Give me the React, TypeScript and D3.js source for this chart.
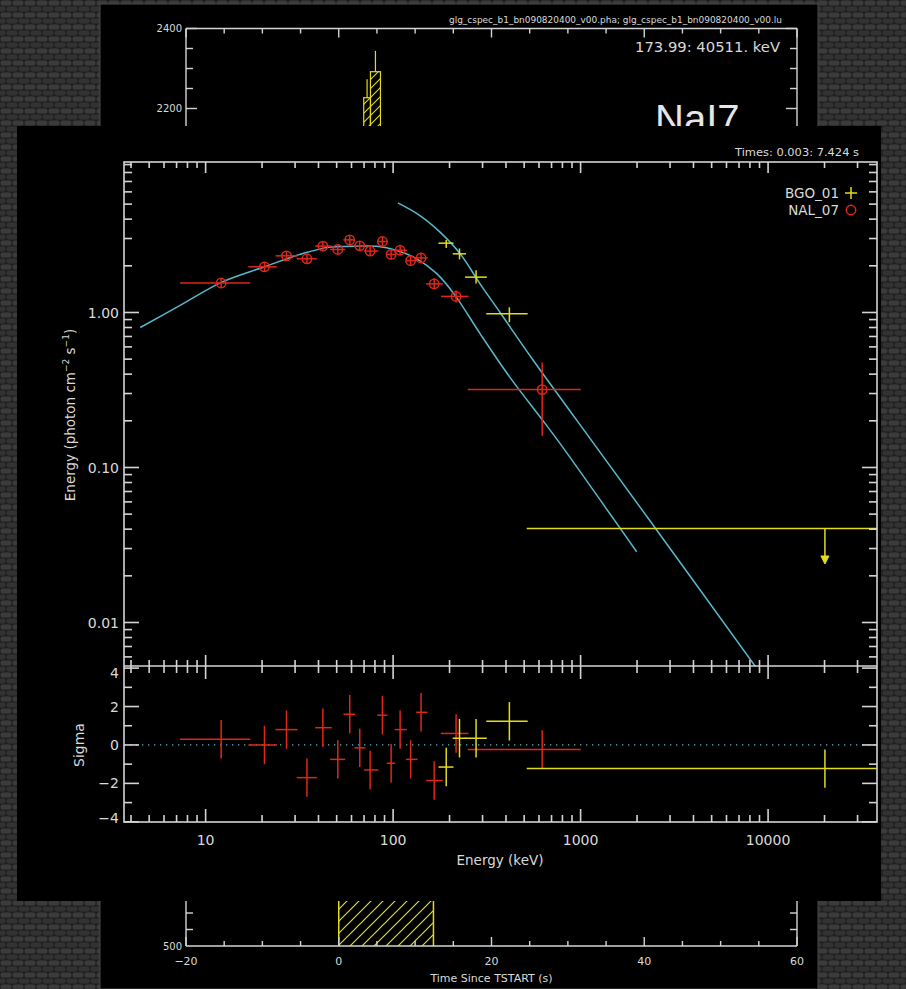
import React from 'react';
import * as d3 from 'd3';

// ---------------- data ----------------
// NaI detector (NAL_07)
const nalE = [12.1, 20.6, 27.0, 34.7, 42.2, 50.7, 58.7, 66.4, 75.4, 87.7, 97.6, 109, 124, 141, 165.6, 216.7, 624];
const nalELo = [7.31, 16.9, 23.6, 30.6, 38.4, 46.1, 54.3, 62.2, 70.0, 82.4, 92.5, 102, 117, 132.7, 150, 180, 250];
const nalEHi = [17.3, 24.0, 30.9, 39.2, 47.1, 55.5, 62.7, 71.0, 83.5, 93.2, 102.5, 118.3, 135, 152.5, 184, 252.5, 1002];
const nalFlux = [1.55, 1.97, 2.32, 2.22, 2.68, 2.55, 2.94, 2.69, 2.49, 2.87, 2.37, 2.52, 2.16, 2.25, 1.53, 1.27, 0.318];
const nalFluxLo = [1.46, 1.85, 2.17, 2.07, 2.5, 2.38, 2.74, 2.51, 2.32, 2.67, 2.2, 2.34, 2.0, 2.08, 1.41, 1.16, 0.16];
const nalFluxHi = [1.65, 2.1, 2.48, 2.38, 2.87, 2.73, 3.15, 2.88, 2.67, 3.08, 2.55, 2.71, 2.33, 2.43, 1.66, 1.39, 0.475];
const nalSigma = [0.3, 0.0, 0.8, -1.7, 0.9, -0.75, 1.6, -0.15, -1.3, 1.55, -0.95, 0.8, -0.75, 1.7, -1.85, 0.6, -0.23];

// BGO detector (BGO_01)
const bgoE = [192, 226, 277, 417];
const bgoELo = [174.6, 208, 242, 314];
const bgoEHi = [210, 245, 316, 522];
const bgoFlux = [2.8, 2.39, 1.69, 0.98];
const bgoFluxLo = [2.61, 2.2, 1.54, 0.866];
const bgoFluxHi = [2.94, 2.59, 1.87, 1.08];
const bgoSigma = [-1.15, 0.35, 0.35, 1.23];
// BGO upper limit bin
const bgoUlE = [20100];
const bgoUlELo = [516];
const bgoUlEHi = [40000];
const bgoUlFlux = [0.0404];
const bgoUlArrow = [0.0242];
const bgoUlSigma = [-1.23];

// model curves (cyan)
const modelNalE = [4.48, 7.31, 12.2, 20.3, 33.3, 46.1, 59, 81.9, 104.7, 133.7, 171, 214, 291, 421, 631, 776, 1991];
const modelNalV = [0.8, 1.11, 1.57, 1.96, 2.41, 2.64, 2.67, 2.67, 2.51, 2.22, 1.78, 1.29, 0.73, 0.38, 0.2, 0.143, 0.0286];
const modelBgoE = [106, 139, 178, 228, 291, 372, 560, 953, 2472, 8690];
const modelBgoV = [5.09, 4.22, 3.3, 2.39, 1.53, 1.0, 0.49, 0.202, 0.0415, 0.00507];

// tick labels
const yLabelVals = [1, 0.1, 0.01];
const yLabelText = ['1.00', '0.10', '0.01'];
const xLabelVals = [10, 100, 1000, 10000];
const xLabelText = ['10', '100', '1000', '10000'];
const sigmaLabelVals = [4, 2, 0, -2, -4];
const sigmaLabelText = ['4', '2', '0', '\u22122', '\u22124'];

// background light-curve panel (partly hidden)
const lcBinStart = [3.27, 4.15];
const lcBinEnd = [4.15, 5.46];
const lcCounts = [2227, 2292];
const lcErrHi = [2273, 2344];
const lcTimeTicks = [-20, 0, 20, 40, 60];
const lcTimeText = ['\u221220', '0', '20', '40', '60'];
const selStart = [0];
const selEnd = [12.4];

const FONT = "'DejaVu Sans', 'Liberation Sans', Arial, sans-serif";
const AXIS = '#d4d4d4';
const TXT = '#dadada';
const RED = '#e0261b';
const YEL = '#e2dc1e';
const CYAN = '#56b9cc';

function logTicks(lo: number, hi: number) {
  const out: { v: number; major: boolean }[] = [];
  for (let d = Math.floor(Math.log10(lo)); d <= Math.ceil(Math.log10(hi)); d++) {
    for (let k = 1; k < 10; k++) {
      const v = k * Math.pow(10, d);
      if (v >= lo * 0.999 && v <= hi * 1.001) out.push({ v, major: k === 1 });
    }
  }
  return out;
}

export default function App() {
  // ---- main plot frame ----
  const L = 124, R = 877, T = 162, M = 666, B = 822;
  const x = d3.scaleLog().domain([3.67, 38100]).range([L, R]);
  const y = d3.scaleLog().domain([0.00524, 9.35]).range([M, T]);
  const yr = d3.scaleLinear().domain([-4.01, 4.11]).range([B, M]);

  const xt = logTicks(3.67, 38100);
  const yt = logTicks(0.00524, 9.35);
  const rt = d3.range(-4, 5);

  const line = d3
    .line<[number, number]>()
    .x((d) => x(d[0]))
    .y((d) => y(d[1]))
    .curve(d3.curveCatmullRom.alpha(0.5));
  const nalModel = line(modelNalE.map((e, i) => [e, modelNalV[i]] as [number, number])) || '';
  const bgoModel = line(modelBgoE.map((e, i) => [e, modelBgoV[i]] as [number, number])) || '';

  // ---- background panel scales ----
  const t = d3.scaleLinear().domain([-20, 60]).range([186, 797]);
  const cTop = d3.scaleLinear().domain([2200, 2400]).range([108.5, 28.5]);
  const cBot = d3.scaleLinear().domain([500, 600]).range([946, 880]);
  const tMinor = d3.range(-20, 61, 5);

  return (
    <svg
      width={906}
      height={989}
      style={{ position: 'absolute', left: 0, top: 0, display: 'block' }}
      fontFamily={FONT}
    >
      <defs>
        <pattern id="carbon" width="12" height="12" patternUnits="userSpaceOnUse">
          <rect width="12" height="12" fill="#202020" />
          <rect x="0.5" y="0.5" width="11" height="5" rx="2.5" fill="#3b3b3b" />
          <rect x="-5.5" y="6.5" width="11" height="5" rx="2.5" fill="#323232" />
          <rect x="6.5" y="6.5" width="11" height="5" rx="2.5" fill="#323232" />
        </pattern>
        <pattern id="hatch" width="12" height="12" patternUnits="userSpaceOnUse">
          <path d="M0,12 L12,0 M-3,3 L3,-3 M9,15 L15,9" stroke={YEL} strokeWidth="1.2" />
        </pattern>
        <pattern id="hatch2" width="9" height="9" patternUnits="userSpaceOnUse">
          <path d="M0,9 L9,0 M-3,3 L3,-3 M6,12 L12,6" stroke={YEL} strokeWidth="1.1" />
        </pattern>
        <clipPath id="upclip">
          <rect x={L} y={T} width={R - L} height={M - T} />
        </clipPath>
        <clipPath id="resclip">
          <rect x={L} y={M} width={R - L} height={B - M} />
        </clipPath>
      </defs>

      {/* textured backdrop */}
      <rect x={0} y={0} width={906} height={989} fill="url(#carbon)" />

      {/* ---------- background (light-curve) window ---------- */}
      <rect x={100} y={4} width={718} height={985} fill="#000" stroke="#4a4a4a" strokeWidth={1} />
      <text x={782} y={23} fontSize={8.5} fill={TXT} textAnchor="end" textLength={333} lengthAdjust="spacingAndGlyphs">
        glg_cspec_b1_bn090820400_v00.pha; glg_cspec_b1_bn090820400_v00.lu
      </text>
      {/* top light-curve frame */}
      <g stroke={AXIS} strokeWidth={1.4} fill="none">
        <line x1={t(-20)} y1={cTop(2400)} x2={t(60)} y2={cTop(2400)} />
        <line x1={t(-20)} y1={cTop(2400)} x2={t(-20)} y2={140} />
        <line x1={t(60)} y1={cTop(2400)} x2={t(60)} y2={140} />
        {tMinor.map((v) => (
          <line key={'tt' + v} x1={t(v)} x2={t(v)} y1={cTop(2400)} y2={cTop(2400) + (v % 20 === 0 ? 9 : 5)} />
        ))}
        {d3.range(2200, 2401, 50).map((v) => (
          <g key={'cl' + v}>
            <line x1={t(-20)} x2={t(-20) + (v % 200 === 0 ? 11 : 7)} y1={cTop(v)} y2={cTop(v)} />
            <line x1={t(60)} x2={t(60) - (v % 200 === 0 ? 11 : 7)} y1={cTop(v)} y2={cTop(v)} />
          </g>
        ))}
      </g>
      <text x={182} y={cTop(2400)} dy="0.36em" fontSize={10} fill={TXT} textAnchor="end">2400</text>
      <text x={182} y={cTop(2200)} dy="0.36em" fontSize={10} fill={TXT} textAnchor="end">2200</text>
      <text x={780} y={52} fontSize={14} fill={TXT} textAnchor="end" textLength={145} lengthAdjust="spacingAndGlyphs">
        173.99: 40511. keV
      </text>
      {/* histogram bins */}
      {lcBinStart.map((s, i) => (
        <g key={'lc' + i}>
          <rect
            x={t(s)}
            y={cTop(lcCounts[i])}
            width={t(lcBinEnd[i]) - t(s)}
            height={cTop(2150) - cTop(lcCounts[i])}
            fill="url(#hatch2)"
            stroke={YEL}
            strokeWidth={1.2}
          />
          <line
            x1={(t(s) + t(lcBinEnd[i])) / 2}
            x2={(t(s) + t(lcBinEnd[i])) / 2}
            y1={cTop(lcErrHi[i])}
            y2={cTop(lcCounts[i])}
            stroke={YEL}
            strokeWidth={1.2}
          />
        </g>
      ))}
      <text x={655} y={133} fontSize={40} fill="#e6e6e6" fontFamily="'Liberation Sans', Arial, sans-serif">
        NaI7
      </text>

      {/* bottom light-curve frame */}
      {selStart.map((s, i) => (
        <g key={'sel' + i}>
          <rect x={t(s)} y={880} width={t(selEnd[i]) - t(s)} height={cBot(500) - 880} fill="url(#hatch)" />
          <line x1={t(s)} x2={t(s)} y1={880} y2={cBot(500)} stroke={YEL} strokeWidth={1.5} />
          <line x1={t(selEnd[i])} x2={t(selEnd[i])} y1={880} y2={cBot(500)} stroke={YEL} strokeWidth={1.5} />
        </g>
      ))}
      <g stroke={AXIS} strokeWidth={1.4} fill="none">
        <line x1={t(-20)} y1={cBot(500)} x2={t(60)} y2={cBot(500)} />
        <line x1={t(-20)} y1={880} x2={t(-20)} y2={cBot(500)} />
        <line x1={t(60)} y1={880} x2={t(60)} y2={cBot(500)} />
        {tMinor.map((v) => (
          <line key={'bt' + v} x1={t(v)} x2={t(v)} y1={cBot(500)} y2={cBot(500) - (v % 20 === 0 ? 9 : 5)} />
        ))}
        {[525, 550].map((v) => (
          <g key={'bl' + v}>
            <line x1={t(-20)} x2={t(-20) + 7} y1={cBot(v)} y2={cBot(v)} />
            <line x1={t(60)} x2={t(60) - 7} y1={cBot(v)} y2={cBot(v)} />
          </g>
        ))}
      </g>
      <text x={182} y={cBot(500)} dy="0.36em" fontSize={10} fill={TXT} textAnchor="end">500</text>
      {lcTimeTicks.map((v, i) => (
        <text key={'tl' + v} x={t(v)} y={965} fontSize={11} fill={TXT} textAnchor="middle">
          {lcTimeText[i]}
        </text>
      ))}
      <text x={t(20)} y={982} fontSize={11} fill={TXT} textAnchor="middle">
        Time Since TSTART (s)
      </text>

      {/* ---------- front (spectrum) window ---------- */}
      <rect x={17} y={126} width={864} height={775} fill="#000" />

      <text x={859} y={156} fontSize={11} fill={TXT} textAnchor="end" textLength={124} lengthAdjust="spacingAndGlyphs">
        Times: 0.003: 7.424 s
      </text>

      {/* model curves */}
      <g clipPath="url(#upclip)" fill="none" stroke={CYAN} strokeWidth={1.5}>
        <path d={nalModel} />
        <path d={bgoModel} />
      </g>

      {/* BGO data */}
      <g clipPath="url(#upclip)" stroke={YEL} strokeWidth={1.5}>
        {bgoE.map((e, i) => (
          <g key={'bg' + i}>
            <line x1={x(bgoELo[i])} x2={x(bgoEHi[i])} y1={y(bgoFlux[i])} y2={y(bgoFlux[i])} />
            <line x1={x(e)} x2={x(e)} y1={y(bgoFluxLo[i])} y2={y(bgoFluxHi[i])} />
          </g>
        ))}
        {bgoUlE.map((e, i) => (
          <g key={'ul' + i}>
            <line x1={x(bgoUlELo[i])} x2={x(bgoUlEHi[i])} y1={y(bgoUlFlux[i])} y2={y(bgoUlFlux[i])} />
            <line x1={x(e)} x2={x(e)} y1={y(bgoUlFlux[i])} y2={y(bgoUlArrow[i]) - 4} />
            <path
              d={`M${x(e) - 4},${y(bgoUlArrow[i]) - 7} L${x(e) + 4},${y(bgoUlArrow[i]) - 7} L${x(e)},${y(bgoUlArrow[i]) + 1} Z`}
              fill={YEL}
              strokeWidth={1}
            />
          </g>
        ))}
      </g>

      {/* NaI data */}
      <g clipPath="url(#upclip)" stroke={RED} strokeWidth={1.5} fill="none">
        {nalE.map((e, i) => (
          <g key={'na' + i}>
            <line x1={x(nalELo[i])} x2={x(nalEHi[i])} y1={y(nalFlux[i])} y2={y(nalFlux[i])} />
            <line x1={x(e)} x2={x(e)} y1={y(nalFluxLo[i])} y2={y(nalFluxHi[i])} />
            <circle cx={x(e)} cy={y(nalFlux[i])} r={4.7} />
          </g>
        ))}
      </g>

      {/* legend */}
      <text x={839} y={193} dy="0.36em" fontSize={13.5} fill={TXT} textAnchor="end">BGO_01</text>
      <g stroke={YEL} strokeWidth={1.5}>
        <line x1={845} x2={857} y1={193} y2={193} />
        <line x1={851} x2={851} y1={187} y2={199} />
      </g>
      <text x={839} y={210} dy="0.36em" fontSize={13.5} fill={TXT} textAnchor="end">NAL_07</text>
      <circle cx={851} cy={210} r={4.7} fill="none" stroke={RED} strokeWidth={1.5} />

      {/* residual zero line */}
      <line x1={L} x2={R} y1={yr(0)} y2={yr(0)} stroke={CYAN} strokeWidth={1.3} strokeDasharray="1.3 4.7" />

      {/* residuals */}
      <g clipPath="url(#resclip)" strokeWidth={1.5}>
        {nalE.map((e, i) => (
          <g key={'rn' + i} stroke={RED}>
            <line x1={x(nalELo[i])} x2={x(nalEHi[i])} y1={yr(nalSigma[i])} y2={yr(nalSigma[i])} />
            <line x1={x(e)} x2={x(e)} y1={yr(nalSigma[i] - 1)} y2={yr(nalSigma[i] + 1)} />
          </g>
        ))}
        {bgoE.map((e, i) => (
          <g key={'rb' + i} stroke={YEL}>
            <line x1={x(bgoELo[i])} x2={x(bgoEHi[i])} y1={yr(bgoSigma[i])} y2={yr(bgoSigma[i])} />
            <line x1={x(e)} x2={x(e)} y1={yr(bgoSigma[i] - 1)} y2={yr(bgoSigma[i] + 1)} />
          </g>
        ))}
        {bgoUlE.map((e, i) => (
          <g key={'ru' + i} stroke={YEL}>
            <line x1={x(bgoUlELo[i])} x2={x(bgoUlEHi[i])} y1={yr(bgoUlSigma[i])} y2={yr(bgoUlSigma[i])} />
            <line x1={x(e)} x2={x(e)} y1={yr(bgoUlSigma[i] - 1)} y2={yr(bgoUlSigma[i] + 1)} />
          </g>
        ))}
      </g>

      {/* axes frames and ticks */}
      <g stroke={AXIS} strokeWidth={1.6} fill="none">
        <rect x={L} y={T} width={R - L} height={B - T} />
        <line x1={L} x2={R} y1={M} y2={M} />
        {xt.map((tk, i) => (
          <g key={'xt' + i}>
            <line x1={x(tk.v)} x2={x(tk.v)} y1={T} y2={T + (tk.major ? 11 : 6)} />
            <line x1={x(tk.v)} x2={x(tk.v)} y1={M} y2={M - (tk.major ? 11 : 6)} />
            <line x1={x(tk.v)} x2={x(tk.v)} y1={M} y2={M + (tk.major ? 13 : 7)} />
            <line x1={x(tk.v)} x2={x(tk.v)} y1={B} y2={B - (tk.major ? 13 : 7)} />
          </g>
        ))}
        {yt.map((tk, i) => (
          <g key={'yt' + i}>
            <line x1={L} x2={L + (tk.major ? 15 : 8)} y1={y(tk.v)} y2={y(tk.v)} />
            <line x1={R} x2={R - (tk.major ? 15 : 8)} y1={y(tk.v)} y2={y(tk.v)} />
          </g>
        ))}
        {rt.map((v) => (
          <g key={'rt' + v}>
            <line x1={L} x2={L + (v % 2 === 0 ? 15 : 8)} y1={yr(v)} y2={yr(v)} />
            <line x1={R} x2={R - (v % 2 === 0 ? 15 : 8)} y1={yr(v)} y2={yr(v)} />
          </g>
        ))}
      </g>

      {/* tick labels */}
      {yLabelVals.map((v, i) => (
        <text key={'yl' + i} x={119} y={y(v)} dy="0.36em" fontSize={14} fill={TXT} textAnchor="end">
          {yLabelText[i]}
        </text>
      ))}
      {sigmaLabelVals.map((v, i) => (
        <text
          key={'sl' + i}
          x={119}
          y={Math.max(M + 7, Math.min(B - 4, yr(v)))}
          dy="0.36em"
          fontSize={14}
          fill={TXT}
          textAnchor="end"
        >
          {sigmaLabelText[i]}
        </text>
      ))}
      {xLabelVals.map((v, i) => (
        <text key={'xl' + i} x={x(v)} y={840} dy="0.36em" fontSize={14} fill={TXT} textAnchor="middle">
          {xLabelText[i]}
        </text>
      ))}
      <text x={500} y={860} dy="0.36em" fontSize={13.5} fill={TXT} textAnchor="middle">
        Energy (keV)
      </text>
      <text transform="translate(75,415) rotate(-90)" fontSize={13.5} fill={TXT} textAnchor="middle">
        Energy (photon cm
        <tspan fontSize={9} dy={-6}>{'\u22122'}</tspan>
        <tspan dy={6}> s</tspan>
        <tspan fontSize={9} dy={-6}>{'\u22121'}</tspan>
        <tspan dy={6}>)</tspan>
      </text>
      <text transform="translate(84,745) rotate(-90)" fontSize={14} fill={TXT} textAnchor="middle">
        Sigma
      </text>
    </svg>
  );
}
